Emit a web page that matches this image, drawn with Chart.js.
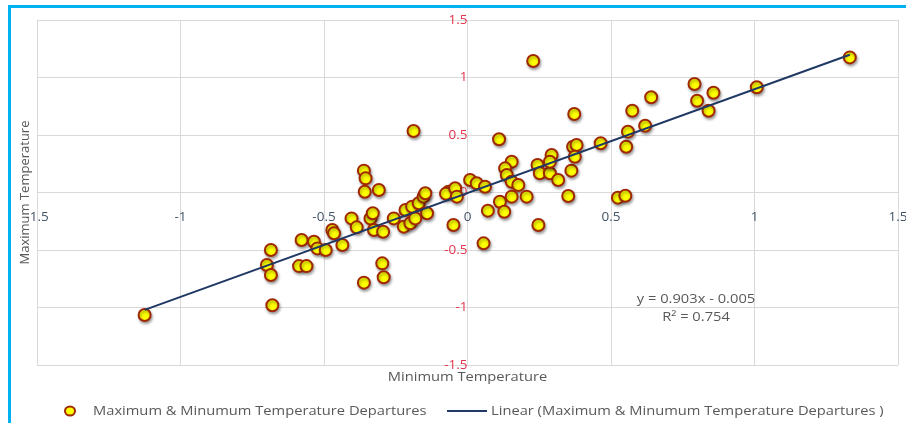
<!DOCTYPE html>
<html>
<head>
<meta charset="utf-8">
<title>Maximum & Minimum Temperature Departures</title>
<script src="https://cdn.jsdelivr.net/npm/chart.js@4.4.1/dist/chart.umd.min.js"></script>
<style>
    body { margin: 0; background: #fff; }
    #wrap { position: relative; width: 906px; height: 423px; overflow: hidden; }
    #frame {
        position: absolute; left: 8px; top: 5px; width: 1000px; height: 500px;
        border-top: 3px solid #00B0F0; border-left: 3px solid #00B0F0;
    }
    #chart { position: absolute; left: 0; top: 0; }
</style>
</head>
<body>
<div id="wrap">
    <div id="frame"></div>
    <canvas id="chart" width="906" height="423"></canvas>
</div>
<script>
// Minimum temperature departures (x) and maximum temperature departures (y)
const minTemp = [
    -1.125, -0.685, -0.699, -0.685, -0.68, -0.578, -0.587, -0.561, -0.535, -0.523,
    -0.494, -0.471, -0.465, -0.436, -0.404, -0.386, -0.361, -0.338, -0.33, -0.326,
    -0.294, -0.297, -0.292, -0.361, -0.355, -0.358, -0.309, -0.188, -0.257, -0.216,
    -0.193, -0.17, -0.153, -0.147, -0.141, -0.222, -0.199, -0.182, -0.066, -0.075,
    -0.043, -0.037, -0.049, 0.009, 0.032, 0.061, 0.11, 0.229, 0.154, 0.131,
    0.137, 0.154, 0.177, 0.113, 0.154, 0.206, 0.071, 0.128, 0.056, 0.247,
    0.244, 0.252, 0.287, 0.293, 0.287, 0.316, 0.362, 0.351, 0.368, 0.38,
    0.374, 0.372, 0.464, 0.553, 0.559, 0.524, 0.55, 0.574, 0.619, 0.64,
    0.791, 0.8, 0.857, 0.84, 1.008, 1.332
];
const maxTemp = [
    -1.065, -0.5, -0.63, -0.717, -0.98, -0.413, -0.64, -0.64, -0.428, -0.486,
    -0.5, -0.326, -0.355, -0.457, -0.225, -0.303, -0.784, -0.225, -0.181, -0.326,
    -0.341, -0.616, -0.737, 0.19, 0.123, 0.007, 0.022, 0.535, -0.225, -0.152,
    -0.123, -0.094, -0.036, -0.007, -0.181, -0.297, -0.268, -0.225, 0.007, -0.01,
    0.037, -0.036, -0.283, 0.109, 0.08, 0.05, 0.463, 1.143, 0.268, 0.21,
    0.152, 0.094, 0.065, -0.08, -0.036, -0.036, -0.158, -0.167, -0.442, -0.283,
    0.239, 0.167, 0.167, 0.326, 0.268, 0.109, 0.19, -0.03, 0.398, 0.413,
    0.311, 0.683, 0.428, 0.398, 0.529, -0.045, -0.028, 0.711, 0.581, 0.828,
    0.943, 0.798, 0.868, 0.711, 0.915, 1.175
];

// Linear trendline end points (y = 0.903x - 0.005)
const trendX = [-1.125, 1.332];
const trendY = [-1.021, 1.198];

const xTickLabels = ['-1.5', '-1', '-0.5', '0', '0.5', '1', '1.5'];
const yTickLabels = ['-1.5', '-1', '-0.5', '0', '0.5', '1', '1.5'];

const seriesName = 'Maximum & Minumum Temperature Departures';
const trendName = 'Linear (Maximum & Minumum Temperature Departures )';
const equationText = 'y = 0.903x - 0.005';
const r2Text = 'R\u00B2 = 0.754';

const FONT = '"Open Sans", "Liberation Sans", sans-serif';
const TEXT_GREY = '#595959';
const POINT_FILL = '#FFFF00';
const POINT_EDGE = '#A02800';
const TREND_COLOR = '#1F3864';

// soft drop shadow under the markers, like the spreadsheet original
const markerShadow = {
    id: 'markerShadow',
    beforeDatasetDraw(chart, args) {
        if (args.index !== 1) return;
        const ctx = chart.ctx;
        ctx.save();
        ctx.shadowColor = 'rgba(0, 0, 0, 0.35)';
        ctx.shadowBlur = 3;
        ctx.shadowOffsetX = 1;
        ctx.shadowOffsetY = 2;
    },
    afterDatasetDraw(chart, args) {
        if (args.index !== 1) return;
        chart.ctx.restore();
    }
};

// stretched text helper (the source picture is a little wider than tall)
function wideText(ctx, text, x, y, align) {
    ctx.save();
    ctx.translate(x, y);
    ctx.scale(1.13, 1);
    ctx.textAlign = align || 'left';
    ctx.textBaseline = 'middle';
    ctx.fillText(text, 0, 0);
    ctx.restore();
}

const decorations = {
    id: 'decorations',
    afterDraw(chart) {
        const ctx = chart.ctx;
        const area = chart.chartArea;
        const xs = chart.scales.x;
        ctx.save();
        ctx.fillStyle = TEXT_GREY;
        ctx.font = '13px ' + FONT;

        // axis titles
        wideText(ctx, 'Minimum Temperature', xs.getPixelForValue(0), area.bottom + 12, 'center');
        ctx.save();
        ctx.translate(25, (area.top + area.bottom) / 2);
        ctx.rotate(-Math.PI / 2);
        ctx.textAlign = 'center';
        ctx.textBaseline = 'middle';
        ctx.fillText('Maximum Temperature', 0, 0);
        ctx.restore();

        // trendline equation
        wideText(ctx, equationText, 696, 299, 'center');
        wideText(ctx, r2Text, 696, 317, 'center');

        // legend
        const ly = 411;
        ctx.beginPath();
        ctx.ellipse(70, ly, 5, 4.5, 0, 0, Math.PI * 2);
        ctx.fillStyle = POINT_FILL;
        ctx.fill();
        ctx.lineWidth = 2;
        ctx.strokeStyle = POINT_EDGE;
        ctx.stroke();

        ctx.fillStyle = TEXT_GREY;
        wideText(ctx, seriesName, 93, ly, 'left');

        ctx.beginPath();
        ctx.moveTo(447, ly);
        ctx.lineTo(487, ly);
        ctx.lineWidth = 2;
        ctx.strokeStyle = TREND_COLOR;
        ctx.stroke();
        wideText(ctx, trendName, 491, ly, 'left');
        ctx.restore();
    }
};

const points = minTemp.map((x, i) => ({ x: x, y: maxTemp[i] }));
const trend = trendX.map((x, i) => ({ x: x, y: trendY[i] }));

new Chart(document.getElementById('chart'), {
    type: 'scatter',
    data: {
        datasets: [{
            label: trendName,
            data: trend,
            showLine: true,
            borderColor: TREND_COLOR,
            borderWidth: 2,
            pointRadius: 0,
            order: 1
        }, {
            label: seriesName,
            data: points,
            backgroundColor: POINT_FILL,
            borderColor: POINT_EDGE,
            borderWidth: 2,
            pointRadius: 6,
            order: 2
        }]
    },
    options: {
        responsive: false,
        animation: false,
        devicePixelRatio: 1,
        layout: { padding: { left: 37, right: 6, top: 20, bottom: 58 } },
        plugins: {
            legend: { display: false },
            tooltip: { enabled: false }
        },
        scales: {
            x: {
                type: 'linear',
                position: { y: 0 },
                min: -1.5,
                max: 1.5,
                ticks: {
                    stepSize: 0.5,
                    padding: 17,
                    color: '#44546A',
                    font: { family: FONT, size: 13.5 },
                    callback: (v, i) => xTickLabels[i]
                },
                grid: { color: '#D9D9D9', drawTicks: false },
                border: { display: false },
                // labels sit inside the plot, so no extra edge room is needed
                afterFit: (scale) => { scale.paddingLeft = 0; scale.paddingRight = 0; }
            },
            y: {
                type: 'linear',
                position: { x: 0 },
                min: -1.5,
                max: 1.5,
                ticks: {
                    stepSize: 0.5,
                    padding: 18,
                    color: '#E3344E',
                    font: { family: FONT, size: 13.5 },
                    callback: (v, i) => yTickLabels[i]
                },
                grid: { color: '#D9D9D9', drawTicks: false },
                border: { display: false },
                afterFit: (scale) => { scale.paddingTop = 0; scale.paddingBottom = 0; }
            }
        }
    },
    plugins: [markerShadow, decorations]
});
</script>
</body>
</html>
